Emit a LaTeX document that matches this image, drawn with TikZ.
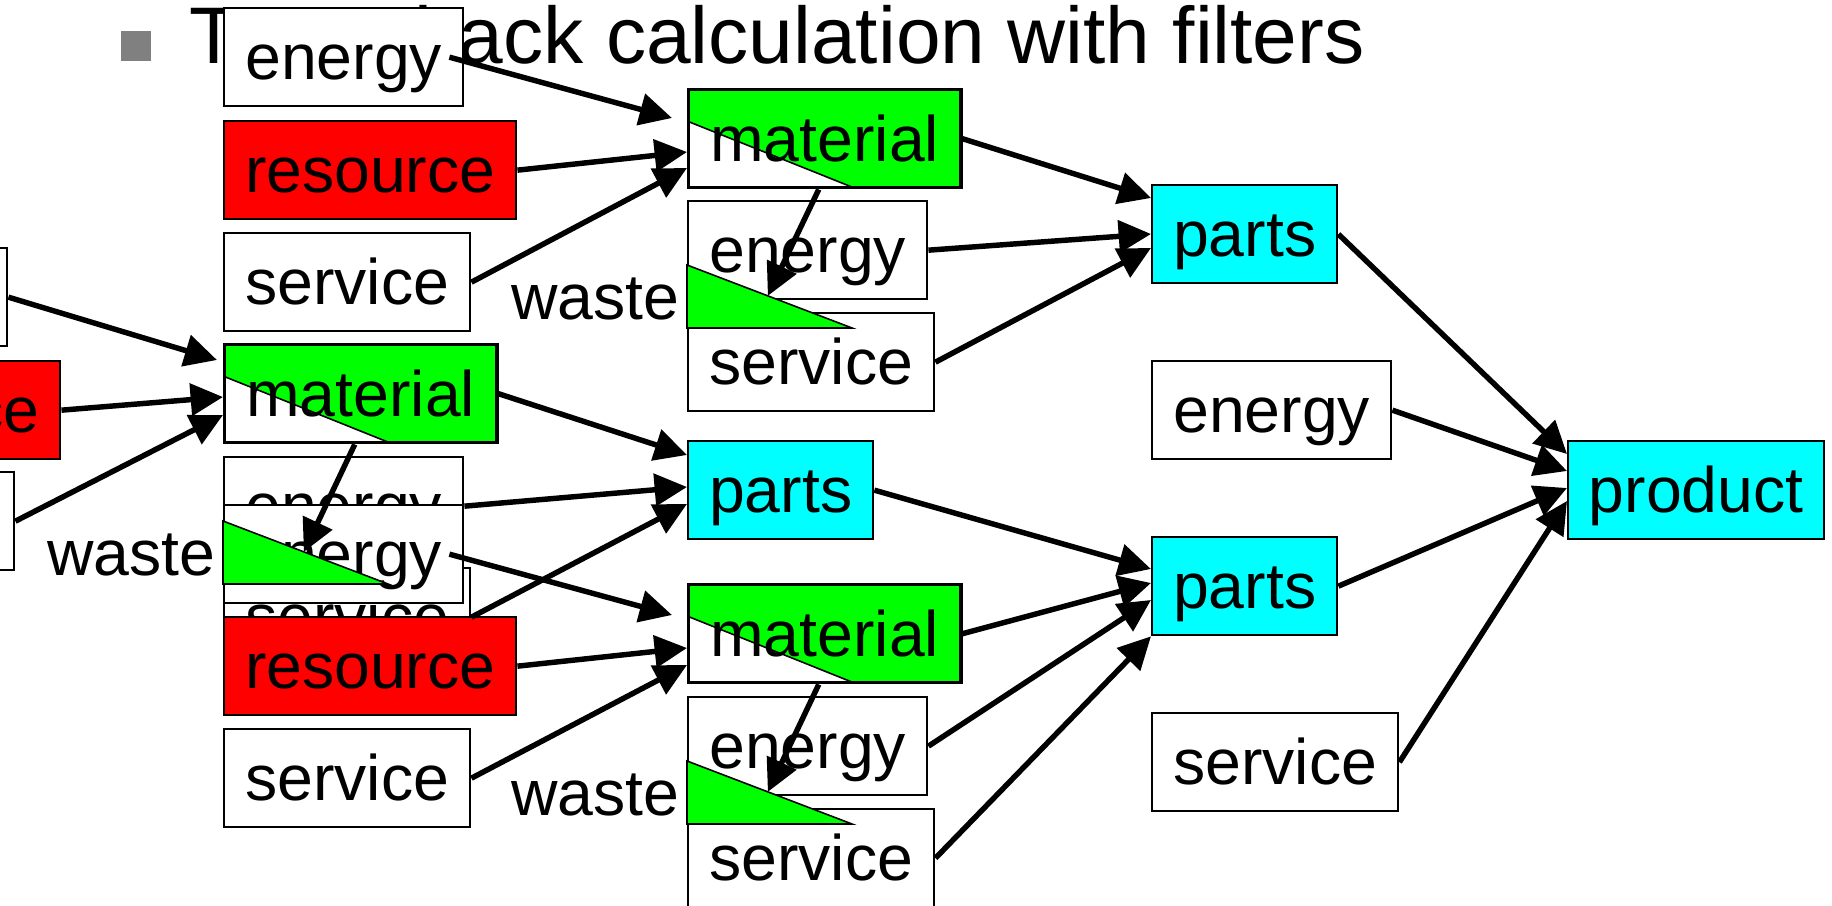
\documentclass[tikz,border=0pt]{standalone}
\usepackage{fontspec}
\setmainfont{Liberation Sans}
\usetikzlibrary{arrows.meta,calc}

\definecolor{fgreen}{RGB}{0,255,0}
\definecolor{fred}{RGB}{255,0,0}
\definecolor{fcyan}{RGB}{0,255,255}
\definecolor{bulletgray}{RGB}{128,128,128}

\newcommand\wastetri[2]{%
  \coordinate (#1a) at ($(#2.north west)+(0,65)$);
  \coordinate (#1b) at ($(#2.north west)+(165,128)$);
  \coordinate (#1c) at ($(#2.north west)+(0,128)$);
  \filldraw[fill=fgreen, draw=black, line width=0.45pt] (#1a) -- (#1b) -- (#1c) -- cycle;
  \node[lbl, anchor=base east] (#1w) at ($(#1c)+(-7,-9)$) {waste};
}

\begin{document}
\begin{tikzpicture}[x=0.01cm,y=-0.01cm,
  lbl/.style={inner sep=0pt, font=\fontsize{18.3}{21}\selectfont},
  box/.style={draw=black, line width=0.65pt, fill=white, anchor=north west, inner sep=0pt,
    minimum height=0.98cm, text height=14.2pt, text depth=1.4pt, font=\fontsize{18.3}{21}\selectfont},
  ebox/.style={box, minimum width=2.39cm},
  sbox/.style={box, minimum width=2.46cm},
  rbox/.style={box, fill=fred, minimum width=2.92cm},
  pbox/.style={box, fill=fcyan, minimum width=1.85cm},
  prodbox/.style={box, fill=fcyan, minimum width=2.56cm},
  mbox/.style={box, fill=fgreen, line width=0.95pt, minimum width=2.72cm,
    path picture={
      \fill[white] ($(path picture bounding box.north west)+(0,32)$) -- ($(path picture bounding box.south west)+(165,0)$) -- (path picture bounding box.south west) -- cycle;
      \draw[line width=0.45pt] ($(path picture bounding box.north west)+(0,32)$) -- ($(path picture bounding box.south west)+(165,0)$);
    }},
  arr/.style={line width=1.55pt, -{Triangle[length=9.2pt,width=9pt]}}
]
\useasboundingbox (0,0) rectangle (1832,906);
\clip (0,0) rectangle (1832,906);

% title
\node[fill=bulletgray, anchor=north west, minimum size=0.3cm, inner sep=0pt] (bullet) at (120,30) {};
\node[anchor=base west, inner sep=0pt, font=\fontsize{22.83}{27}\selectfont] (title) at (189,64) {Trace back calculation with filters};

% column 1
\node[ebox] (e0) at (-233,247) {energy};
\node[rbox] (r0) at (-233,360) {resource};
\node[sbox] (s0) at (-233,471) {service};

% column 2
\node[ebox] (eA) at (223,7) {energy};
\node[rbox] (rA) at (223,120) {resource};
\node[sbox] (sA) at (223,232) {service};
\node[mbox] (mB) at (223,343) {material};
\node[ebox] (eB) at (223,456) {energy};
\node[sbox] (sB) at (223,567) {service};
\node[ebox] (eC) at (223,504) {energy};
\wastetri{tB}{eB}
\node[rbox] (rC) at (223,616) {resource};
\node[sbox] (sC) at (223,728) {service};

% column 3
\node[mbox] (mA) at (687,88) {material};
\node[ebox] (eA3) at (687,200) {energy};
\node[sbox] (sA3) at (687,312) {service};
\wastetri{tA}{eA3}
\node[pbox] (pB) at (687,440) {parts};
\node[mbox] (mC) at (687,583) {material};
\node[ebox] (eC3) at (687,696) {energy};
\node[sbox] (sC3) at (687,808) {service};
\wastetri{tC}{eC3}

% column 4
\node[pbox] (pA) at (1151,184) {parts};
\node[ebox] (eD) at (1151,360) {energy};
\node[pbox] (pD) at (1151,536) {parts};
\node[sbox] (sD) at (1151,712) {service};
\node[prodbox] (prod) at (1567,440) {product};

% arrows group A
\draw[arr] ($(eA.east)+(-15,0)$) -- ($(mA.north west)+(-15,30)$);
\draw[arr] (rA.east) -- ($(mA.north west)+(0,64)$);
\draw[arr] (sA.east) -- ($(mA.north west)+(0,80)$);
\draw[arr] (mA.east) -- ($(pA.north west)+(0,14)$);
\draw[arr] (eA3.east) -- ($(pA.north west)+(0,50)$);
\draw[arr] (sA3.east) -- ($(pA.north west)+(0,64)$);
\draw[arr] ($(mA.south)+(-6,0)$) -- ($(tAa)!0.49!(tAb)$);

% arrows group B
\draw[arr] (e0.east) -- ($(mB.north west)+(-6,17)$);
\draw[arr] (r0.east) -- ($(mB.north west)+(0,54)$);
\draw[arr] (s0.east) -- ($(mB.north west)+(0,72)$);
\draw[arr] (mB.east) -- ($(pB.north west)+(0,15)$);
\draw[arr] (eB.east) -- ($(pB.north west)+(0,47)$);
\draw[arr] (sB.east) -- ($(pB.north west)+(0,64)$);
\draw[arr] ($(mB.south)+(-6,0)$) -- ($(tBa)!0.49!(tBb)$);

% arrows group C
\draw[arr] ($(eC.east)+(-15,0)$) -- ($(mC.north west)+(-15,32)$);
\draw[arr] (rC.east) -- ($(mC.north west)+(0,65)$);
\draw[arr] (sC.east) -- ($(mC.north west)+(0,82)$);
\draw[arr] (pB.east) -- ($(pD.north west)+(0,33)$);
\draw[arr] (mC.east) -- ($(pD.north west)+(0,47)$);
\draw[arr] (eC3.east) -- ($(pD.north west)+(0,64)$);
\draw[arr] (sC3.east) -- (pD.south west);
\draw[arr] ($(mC.south)+(-6,0)$) -- ($(tCa)!0.49!(tCb)$);

% to product
\draw[arr] (pA.east) -- ($(prod.north west)+(0,14)$);
\draw[arr] (eD.east) -- ($(prod.north west)+(0,31)$);
\draw[arr] (pD.east) -- ($(prod.north west)+(0,48)$);
\draw[arr] (sD.east) -- ($(prod.north west)+(0,61)$);
\end{tikzpicture}
\end{document}
